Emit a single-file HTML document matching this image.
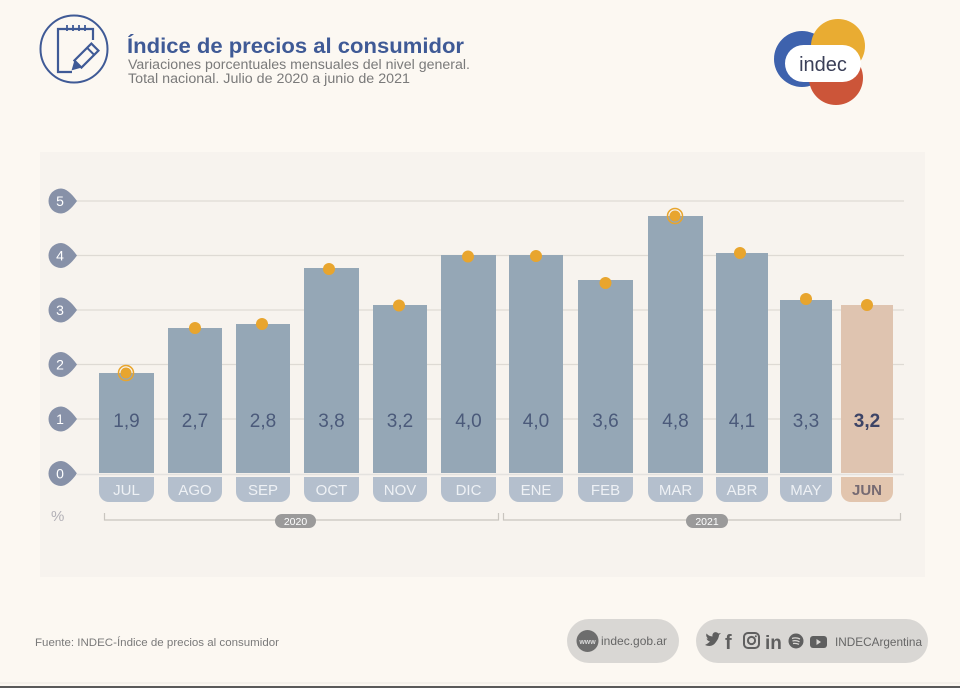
<!DOCTYPE html>
<html><head><meta charset="utf-8"><style>
html,body{margin:0;padding:0;background:#fcf8f2;}
svg{display:block;}
text{font-family:"Liberation Sans",Arial,sans-serif;}
</style></head><body>
<svg width="960" height="688" viewBox="0 0 960 688" xmlns="http://www.w3.org/2000/svg">
<rect x="0" y="0" width="960" height="688" fill="#fcf8f2"/>
<!-- header icon -->
<circle cx="74" cy="49" r="33.5" fill="none" stroke="#3f5a96" stroke-width="2"/>
<path d="M93 40 V29 H58 V72 H72" fill="none" stroke="#3f5a96" stroke-width="2.2"/>
<g stroke="#3f5a96" stroke-width="1.8"><line x1="67" y1="25" x2="67" y2="31"/><line x1="73" y1="25" x2="73" y2="31"/><line x1="79" y1="25" x2="79" y2="31"/><line x1="85" y1="25" x2="85" y2="31"/></g>
<g transform="translate(85,57) rotate(-45)">
<rect x="-10" y="-5" width="24" height="10" fill="none" stroke="#3f5a96" stroke-width="2.2"/>
<line x1="8" y1="-5" x2="8" y2="5" stroke="#3f5a96" stroke-width="2"/>
<path d="M-10 -5 L-19 0 L-10 5 Z" fill="#3f5a96"/>
</g>
<text x="127" y="53" font-size="21" font-weight="bold" fill="#3f5a96" textLength="337" lengthAdjust="spacingAndGlyphs">Índice de precios al consumidor</text>
<text x="128" y="69" font-size="13.5" fill="#7a7a7a" textLength="342" lengthAdjust="spacingAndGlyphs">Variaciones porcentuales mensuales del nivel general.</text>
<text x="128" y="83" font-size="13.5" fill="#7a7a7a" textLength="282" lengthAdjust="spacingAndGlyphs">Total nacional. Julio de 2020 a junio de 2021</text>
<!-- logo -->
<circle cx="802" cy="59" r="28" fill="#3e62ad"/>
<circle cx="838" cy="46" r="27" fill="#e9ac32"/>
<circle cx="836" cy="78" r="27" fill="#cc5539"/>
<rect x="785" y="45" width="76" height="37" rx="18.5" fill="#ffffff"/>
<text x="823" y="71" font-size="20" fill="#3a3f58" text-anchor="middle">indec</text>
<!-- panel -->
<rect x="40" y="152" width="885" height="425" fill="#f7f3ee"/>
<!-- gridlines -->
<g stroke="#dedad4" stroke-width="1.2">
<line x1="76" y1="201" x2="904" y2="201"/>
<line x1="76" y1="255.5" x2="904" y2="255.5"/>
<line x1="76" y1="310" x2="904" y2="310"/>
<line x1="76" y1="364.5" x2="904" y2="364.5"/>
<line x1="76" y1="419" x2="904" y2="419"/>
</g>
<!-- y markers -->
<g fill="#8791a8">
<path d="M61 188.5 A12.5 12.5 0 1 0 61 213.5 Q68 213.5 77 201 Q68 188.5 61 188.5Z"/>
<path d="M61 243 A12.5 12.5 0 1 0 61 268 Q68 268 77 255.5 Q68 243 61 243Z"/>
<path d="M61 297.5 A12.5 12.5 0 1 0 61 322.5 Q68 322.5 77 310 Q68 297.5 61 297.5Z"/>
<path d="M61 352 A12.5 12.5 0 1 0 61 377 Q68 377 77 364.5 Q68 352 61 352Z"/>
<path d="M61 406.5 A12.5 12.5 0 1 0 61 431.5 Q68 431.5 77 419 Q68 406.5 61 406.5Z"/>
<path d="M61 461 A12.5 12.5 0 1 0 61 486 Q68 486 77 473.5 Q68 461 61 461Z"/>
</g>
<g fill="#ffffff" font-size="14" text-anchor="middle">
<text x="60" y="206">5</text><text x="60" y="260.5">4</text><text x="60" y="315">3</text>
<text x="60" y="369.5">2</text><text x="60" y="424">1</text><text x="60" y="478.5">0</text>
</g>
<!-- bars -->
<g fill="#95a7b6">
<rect x="99" y="373" width="55" height="100"/>
<rect x="168" y="328" width="54" height="145"/>
<rect x="236" y="324" width="54" height="149"/>
<rect x="304" y="268" width="55" height="205"/>
<rect x="373" y="305" width="54" height="168"/>
<rect x="441" y="255" width="55" height="218"/>
<rect x="509" y="255" width="54" height="218"/>
<rect x="578" y="280" width="55" height="193"/>
<rect x="648" y="216" width="55" height="257"/>
<rect x="716" y="253" width="52" height="220"/>
<rect x="780" y="300" width="52" height="173"/>
</g>
<rect x="841" y="305" width="52" height="168" fill="#dfc4b0"/>
<line x1="76" y1="474.5" x2="904" y2="474.5" stroke="#e4e2df" stroke-width="1.5"/>
<!-- month tabs -->
<g fill="#b4bfcd">
<path d="M99 477 H154 V492 A10 10 0 0 1 144 502 H109 A10 10 0 0 1 99 492Z"/>
<path d="M168 477 H222 V492 A10 10 0 0 1 212 502 H178 A10 10 0 0 1 168 492Z"/>
<path d="M236 477 H290 V492 A10 10 0 0 1 280 502 H246 A10 10 0 0 1 236 492Z"/>
<path d="M304 477 H359 V492 A10 10 0 0 1 349 502 H314 A10 10 0 0 1 304 492Z"/>
<path d="M373 477 H427 V492 A10 10 0 0 1 417 502 H383 A10 10 0 0 1 373 492Z"/>
<path d="M441 477 H496 V492 A10 10 0 0 1 486 502 H451 A10 10 0 0 1 441 492Z"/>
<path d="M509 477 H563 V492 A10 10 0 0 1 553 502 H519 A10 10 0 0 1 509 492Z"/>
<path d="M578 477 H633 V492 A10 10 0 0 1 623 502 H588 A10 10 0 0 1 578 492Z"/>
<path d="M648 477 H703 V492 A10 10 0 0 1 693 502 H658 A10 10 0 0 1 648 492Z"/>
<path d="M716 477 H768 V492 A10 10 0 0 1 758 502 H726 A10 10 0 0 1 716 492Z"/>
<path d="M780 477 H832 V492 A10 10 0 0 1 822 502 H790 A10 10 0 0 1 780 492Z"/>
</g>
<path d="M841 477 H893 V492 A10 10 0 0 1 883 502 H851 A10 10 0 0 1 841 492Z" fill="#e2c5ae"/>
<g fill="#eef1f5" font-size="15" text-anchor="middle">
<text x="126.5" y="495">JUL</text><text x="195" y="495">AGO</text><text x="263" y="495">SEP</text>
<text x="331.5" y="495">OCT</text><text x="400" y="495">NOV</text><text x="468.5" y="495">DIC</text>
<text x="536" y="495">ENE</text><text x="605.5" y="495">FEB</text><text x="675.5" y="495">MAR</text>
<text x="742" y="495">ABR</text><text x="806" y="495">MAY</text>
</g>
<text x="867" y="495" font-size="15" font-weight="bold" fill="#766a72" text-anchor="middle">JUN</text>
<!-- values -->
<g fill="#4b5a7a" font-size="19" text-anchor="middle">
<text x="126.5" y="427">1,9</text><text x="195" y="427">2,7</text><text x="263" y="427">2,8</text>
<text x="331.5" y="427">3,8</text><text x="400" y="427">3,2</text><text x="468.5" y="427">4,0</text>
<text x="536" y="427">4,0</text><text x="605.5" y="427">3,6</text><text x="675.5" y="427">4,8</text>
<text x="742" y="427">4,1</text><text x="806" y="427">3,3</text>
</g>
<text x="867" y="427" font-size="19" font-weight="bold" fill="#3d4466" text-anchor="middle">3,2</text>
<!-- dots -->
<g fill="#e8a52e">
<circle cx="126" cy="373" r="5.5"/>
<circle cx="195" cy="328" r="6"/>
<circle cx="262" cy="324" r="6"/>
<circle cx="329" cy="269" r="6"/>
<circle cx="399" cy="305.5" r="6"/>
<circle cx="468" cy="256.5" r="6"/>
<circle cx="536" cy="256" r="6"/>
<circle cx="605.5" cy="283" r="6"/>
<circle cx="675" cy="216" r="5.5"/>
<circle cx="740" cy="253" r="6"/>
<circle cx="806" cy="299" r="6"/>
<circle cx="867" cy="305" r="6"/>
</g>
<circle cx="126" cy="373" r="7.5" fill="none" stroke="#e8a52e" stroke-width="1.5"/>
<circle cx="675" cy="216" r="7.5" fill="none" stroke="#e8a52e" stroke-width="1.5"/>
<!-- percent & years -->
<text x="51" y="521" font-size="15" fill="#b2b0b6">%</text>
<g stroke="#c9c5bf" stroke-width="1.2" fill="none">
<path d="M104.5 513 V520 H498.5 V513"/>
<path d="M503.5 513 V520 H900.5 V513"/>
</g>
<rect x="275" y="514" width="41" height="14" rx="7" fill="#9b9a9a"/>
<text x="295.5" y="525" font-size="10.5" fill="#ffffff" text-anchor="middle">2020</text>
<rect x="686" y="514" width="42" height="14" rx="7" fill="#9b9a9a"/>
<text x="707" y="525" font-size="10.5" fill="#ffffff" text-anchor="middle">2021</text>
<!-- footer -->
<text x="35" y="646" font-size="11" fill="#7a7a7a" textLength="244" lengthAdjust="spacingAndGlyphs">Fuente: INDEC-Índice de precios al consumidor</text>
<rect x="567" y="619" width="112" height="44" rx="22" fill="#d9d7d4"/>
<circle cx="587.5" cy="641" r="11" fill="#6d6d6d"/>
<text x="587.5" y="644" font-size="7" font-weight="bold" fill="#dcdcdc" text-anchor="middle">www</text>
<text x="601" y="645" font-size="12" fill="#666666">indec.gob.ar</text>
<rect x="696" y="619" width="232" height="44" rx="22" fill="#d9d7d4"/>
<!-- social icons -->
<path d="M705 645 Q712 648 716 642 Q719 638 719 635 L721 633 L718.5 633.5 Q716.5 631.5 714 632.5 Q712 634 712.5 636.5 Q709 636.5 706.5 633.5 Q705.5 636.5 708 638.5 L706.5 638.5 Q707.5 641 710 641.5 Q708 643.5 705 645Z" fill="#5f5f5f"/>
<text x="725" y="649" font-size="20" font-weight="bold" fill="#5f5f5f">f</text>
<rect x="744" y="633" width="15" height="15" rx="4" fill="none" stroke="#5f5f5f" stroke-width="2"/>
<circle cx="751.5" cy="640.5" r="3.6" fill="none" stroke="#5f5f5f" stroke-width="2"/>
<circle cx="755.8" cy="636.2" r="1" fill="#5f5f5f"/>
<text x="765" y="649" font-size="19" font-weight="bold" fill="#5f5f5f">in</text>
<circle cx="796" cy="641" r="7.5" fill="#5f5f5f"/>
<g stroke="#d9d7d4" stroke-width="1.3" fill="none"><path d="M792 638.5 Q796 637 800 639"/><path d="M792.5 641 Q796 640 799.5 641.8"/><path d="M793 643.5 Q796 643 799 644.3"/></g>
<rect x="810" y="636" width="17" height="12" rx="3" fill="#5f5f5f"/>
<path d="M816.5 639 L821 642 L816.5 645Z" fill="#d9d7d4"/>
<text x="835" y="646" font-size="12" fill="#666666" textLength="87" lengthAdjust="spacingAndGlyphs">INDECArgentina</text>
<!-- bottom border -->
<line x1="0" y1="683" x2="960" y2="683" stroke="#ebe8e3" stroke-width="1"/>
<rect x="0" y="686" width="960" height="2" fill="#5a5a5a"/>
</svg>
</body></html>
